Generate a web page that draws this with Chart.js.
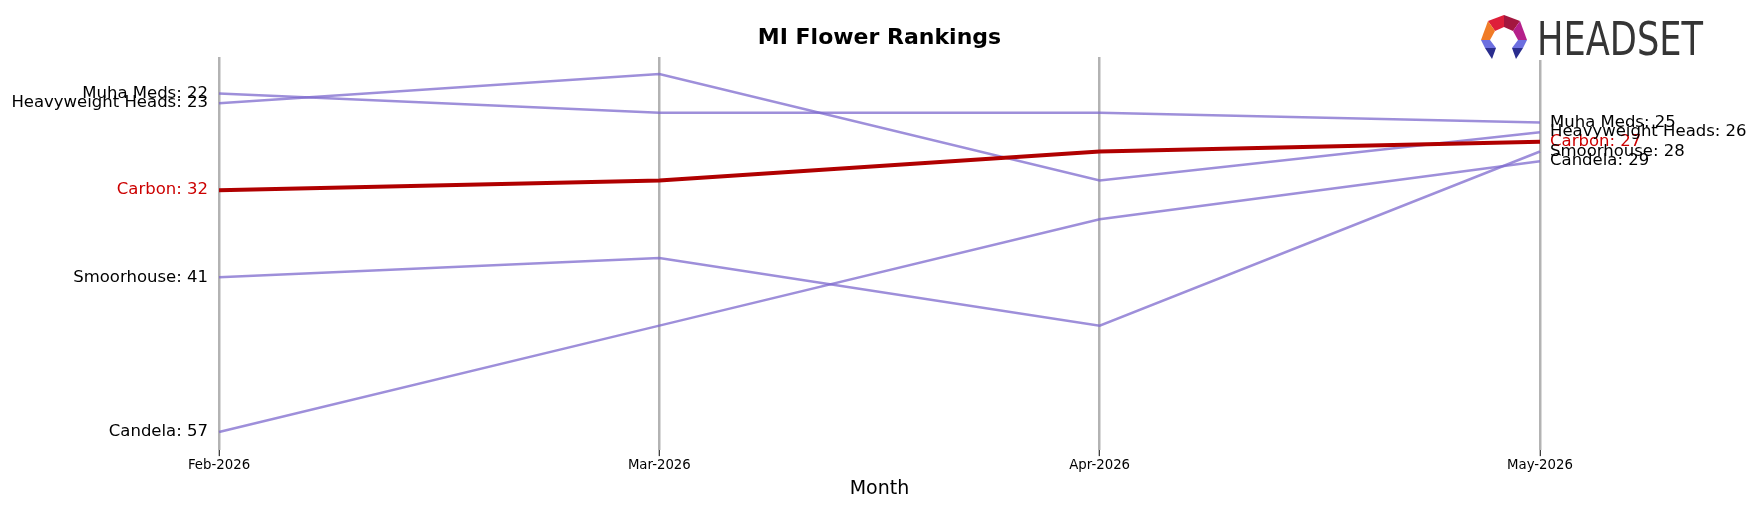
<!DOCTYPE html>
<html>
<head>
<meta charset="utf-8">
<script src="https://cdn.jsdelivr.net/npm/chart.js@4/dist/chart.umd.min.js"></script>
<style>
  html, body { margin: 0; padding: 0; background: #ffffff; }
  #wrap { width: 1758px; height: 507px; }
</style>
</head>
<body>
<div id="wrap"><canvas id="c" width="1758" height="507"></canvas></div>
<script>
// ---- data ----
const months = ['Feb-2026', 'Mar-2026', 'Apr-2026', 'May-2026'];
const brandNames = ['Carbon', 'Muha Meds', 'Heavyweight Heads', 'Smoorhouse', 'Candela'];
const carbonRanks = [32, 31, 28, 27];
const muhaMedsRanks = [22, 24, 24, 25];
const heavyweightHeadsRanks = [23, 20, 31, 26];
const smoorhouseRanks = [41, 39, 46, 28];
const candelaRanks = [57, 46, 35, 29];
const chartTitle = 'MI Flower Rankings';
const xAxisTitle = 'Month';
const highlightBrand = 'Carbon';

const seriesList = [carbonRanks, muhaMedsRanks, heavyweightHeadsRanks, smoorhouseRanks, candelaRanks];

const FONT = 'DejaVu Sans';
const PURPLE = 'rgba(125,105,205,0.75)';
const DARKRED = '#b00000';
const LABELRED = '#cc0000';

const datasets = brandNames.map((name, i) => {
  const hi = name === highlightBrand;
  return {
    label: name,
    data: seriesList[i],
    borderColor: hi ? DARKRED : PURPLE,
    borderWidth: hi ? 4 : 2.5,
    pointRadius: 0,
    pointHoverRadius: 0,
    tension: 0,
    fill: false,
    order: hi ? 0 : 1
  };
});

const endLabels = {
  id: 'endLabels',
  afterDatasetsDraw(chart) {
    const ctx = chart.ctx;
    ctx.save();
    ctx.font = '16.5px "' + FONT + '"';
    ctx.textBaseline = 'middle';
    chart.data.datasets.forEach((ds, i) => {
      const meta = chart.getDatasetMeta(i);
      const pts = meta.data;
      const first = pts[0], last = pts[pts.length - 1];
      ctx.fillStyle = ds.label === highlightBrand ? LABELRED : '#000000';
      ctx.textAlign = 'right';
      ctx.fillText(ds.label + ': ' + ds.data[0], first.x - 11, first.y);
      ctx.textAlign = 'left';
      ctx.fillText(ds.label + ': ' + ds.data[ds.data.length - 1], last.x + 10, last.y);
    });
    ctx.restore();
  }
};

const logo = {
  id: 'logo',
  afterDraw(chart) {
    const ctx = chart.ctx;
    ctx.save();
    ctx.fillStyle = '#ffffff';
    ctx.fillRect(1478, 8, 232, 52);
    const poly = (pts, col) => {
      ctx.beginPath();
      ctx.moveTo(pts[0][0], pts[0][1]);
      for (let k = 1; k < pts.length; k++) ctx.lineTo(pts[k][0], pts[k][1]);
      ctx.closePath();
      ctx.fillStyle = col;
      ctx.fill();
    };
    // icon pieces
    poly([[1488,21],[1504,15],[1504,27],[1495,31]], '#de1f3a');
    poly([[1504,15],[1520,21],[1513,31],[1504,27]], '#a3173f');
    poly([[1488,21],[1495,31],[1490,40],[1481,40]], '#f07b26');
    poly([[1520,21],[1527,40],[1518,40],[1513,31]], '#b5208a');
    poly([[1481,40],[1490,40],[1496,48],[1485,48]], '#6c6fe0');
    poly([[1485,48],[1496,48],[1492,59]], '#2a2d8e');
    poly([[1518,40],[1527,40],[1523,48],[1512,48]], '#6c6fe0');
    poly([[1512,48],[1523,48],[1516,59]], '#2a2d8e');
    // wordmark
    ctx.fillStyle = '#353535';
    ctx.font = '46.6px "' + FONT + '"';
    ctx.textBaseline = 'alphabetic';
    ctx.textAlign = 'left';
    const w = ctx.measureText('HEADSET').width;
    ctx.translate(1537, 55);
    ctx.scale(166 / w, 1);
    ctx.fillText('HEADSET', 0, 0);
    ctx.restore();
  }
};

new Chart(document.getElementById('c'), {
  type: 'line',
  data: { labels: months, datasets },
  plugins: [endLabels, logo],
  options: {
    responsive: false,
    animation: false,
    events: [],
    layout: { padding: { left: 219, right: 218, top: 0, bottom: 6.6 } },
    plugins: {
      legend: { display: false },
      tooltip: { enabled: false },
      title: {
        display: true,
        text: chartTitle,
        color: '#000000',
        font: { family: FONT, size: 22, weight: 'bold' },
        padding: { top: 25, bottom: 5.6 }
      }
    },
    scales: {
      x: {
        type: 'category',
        offset: false,
        border: { display: false },
        grid: {
          display: true,
          drawOnChartArea: true,
          color: 'rgba(160,160,160,0.8)',
          lineWidth: 2.5,
          tickColor: '#000000',
          tickLength: 6,
          tickWidth: 1
        },
        ticks: {
          color: '#000000',
          font: { family: FONT, size: 13.3 },
          padding: 1,
          maxRotation: 0,
          autoSkip: false
        },
        title: {
          display: true,
          text: xAxisTitle,
          color: '#000000',
          font: { family: FONT, size: 19 },
          padding: { top: 3.5, bottom: 0 }
        }
      },
      y: {
        display: false,
        reverse: true,
        min: 18.23,
        max: 58.87
      }
    }
  }
});
</script>
</body>
</html>
